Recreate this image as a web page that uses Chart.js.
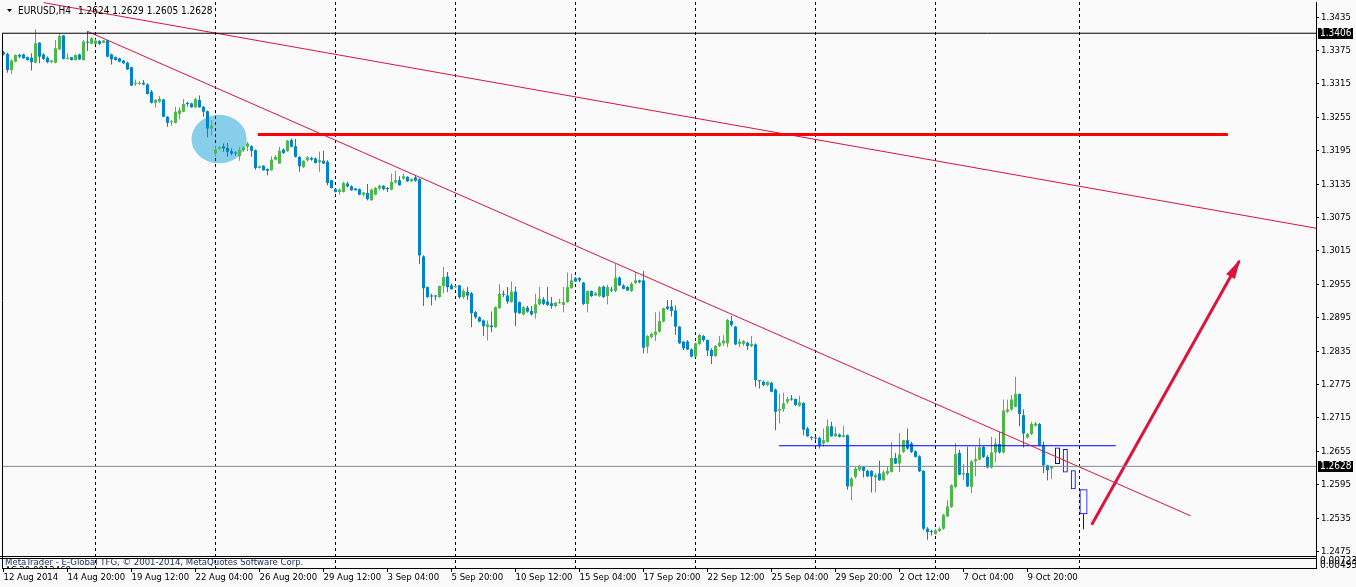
<!DOCTYPE html>
<html>
<head>
<meta charset="utf-8">
<script src="https://cdn.jsdelivr.net/npm/chart.js@4.4.1/dist/chart.umd.min.js"></script>
<style>
html,body{margin:0;padding:0;background:#FAFAFA;}
canvas{display:block;}
</style>
</head>
<body>
<canvas id="c" width="1356" height="587"></canvas>
<script>
// ---- EURUSD H4 candles (bar index 0 = 12 Aug 2014 04:00) ----
const openP = [
1.3372,1.3369,1.3340,1.3355,1.3367,1.3368,1.3363,1.3362,1.3353,1.3389,
1.3368,1.3362,1.3354,1.3353,1.3377,1.3402,1.3360,1.3363,1.3358,1.3368,
1.3358,1.3390,1.3387,1.3387,1.3392,1.3389,1.3393,1.3368,1.3363,1.3361,
1.3357,1.3353,1.3345,1.3315,1.3315,1.3317,1.3314,1.3301,1.3281,1.3283,
1.3287,1.3256,1.3246,1.3245,1.3261,1.3265,1.3281,1.3280,1.3273,1.3286,
1.3274,1.3266,1.3235,1.3190,1.3199,1.3203,1.3200,1.3194,1.3191,1.3185,
1.3196,1.3202,1.3203,1.3196,1.3164,1.3168,1.3162,1.3160,1.3179,1.3172,
1.3197,1.3194,1.3214,1.3203,1.3184,1.3166,1.3178,1.3182,1.3181,1.3174,
1.3177,1.3175,1.3142,1.3126,1.3121,1.3121,1.3136,1.3131,1.3127,1.3126,
1.3116,1.3119,1.3106,1.3116,1.3127,1.3132,1.3128,1.3125,1.3138,1.3142,
1.3145,1.3148,1.3140,1.3147,1.3144,1.3005,1.2950,1.2935,1.2935,1.2932,
1.2952,1.2969,1.2953,1.2950,1.2953,1.2932,1.2941,1.2939,1.2905,1.2896,
1.2890,1.2878,1.2881,1.2878,1.2912,1.2937,1.2935,1.2923,1.2942,1.2923,
1.2901,1.2913,1.2907,1.2903,1.2919,1.2928,1.2924,1.2921,1.2916,1.2921,
1.2918,1.2923,1.2948,1.2966,1.2966,1.2958,1.2920,1.2943,1.2935,1.2934,
1.2951,1.2934,1.2945,1.2943,1.2967,1.2953,1.2950,1.2943,1.2957,1.2962,
1.2962,1.2843,1.2860,1.2864,1.2870,1.2888,1.2915,1.2915,1.2908,1.2879,
1.2852,1.2852,1.2838,1.2825,1.2848,1.2862,1.2855,1.2837,1.2826,1.2844,
1.2849,1.2849,1.2889,1.2879,1.2848,1.2848,1.2850,1.2844,1.2847,1.2782,
1.2780,1.2774,1.2778,1.2766,1.2728,1.2731,1.2744,1.2749,1.2749,1.2737,
1.2742,1.2696,1.2680,1.2679,1.2679,1.2669,1.2672,1.2700,1.2682,1.2685,
1.2681,1.2684,1.2592,1.2609,1.2622,1.2627,1.2620,1.2620,1.2608,1.2615,
1.2603,1.2615,1.2618,1.2643,1.2633,1.2654,1.2675,1.2669,1.2655,1.2646,
1.2620,1.2516,1.2511,1.2507,1.2512,1.2516,1.2538,1.2555,1.2591,1.2652,
1.2614,1.2616,1.2591,1.2637,1.2640,1.2663,1.2645,1.2626,1.2653,1.2668,
1.2653,1.2726,1.2730,1.2735,1.2758,1.2720,1.2680,1.2686,1.2701,1.2704,
1.2666,1.2630,1.2624
];
const highP = [
1.3374,1.3371,1.3359,1.3368,1.3369,1.3369,1.3364,1.3370,1.3413,1.3390,
1.3370,1.3364,1.3358,1.3394,1.3406,1.3403,1.3370,1.3363,1.3368,1.3369,
1.3394,1.3410,1.3399,1.3395,1.3394,1.3394,1.3394,1.3369,1.3364,1.3362,
1.3358,1.3355,1.3346,1.3323,1.3320,1.3322,1.3316,1.3304,1.3288,1.3293,
1.3288,1.3257,1.3250,1.3274,1.3273,1.3288,1.3283,1.3281,1.3290,1.3294,
1.3275,1.3267,1.3250,1.3203,1.3203,1.3208,1.3209,1.3199,1.3194,1.3202,
1.3203,1.3211,1.3205,1.3197,1.3168,1.3169,1.3163,1.3185,1.3187,1.3202,
1.3199,1.3214,1.3217,1.3216,1.3185,1.3178,1.3185,1.3184,1.3183,1.3193,
1.3195,1.3178,1.3143,1.3127,1.3127,1.3139,1.3139,1.3133,1.3128,1.3127,
1.3121,1.3135,1.3127,1.3130,1.3134,1.3133,1.3130,1.3154,1.3159,1.3149,
1.3154,1.3149,1.3145,1.3151,1.3145,1.3007,1.2951,1.2938,1.2936,1.2953,
1.2986,1.2977,1.2956,1.2953,1.2954,1.2947,1.2950,1.2941,1.2907,1.2897,
1.2892,1.2890,1.2906,1.2915,1.2955,1.2944,1.2950,1.2960,1.2951,1.2924,
1.2916,1.2916,1.2916,1.2938,1.2950,1.2932,1.2950,1.2932,1.2923,1.2929,
1.2950,1.2976,1.2974,1.2968,1.2968,1.2959,1.2944,1.2944,1.2941,1.2952,
1.2953,1.2954,1.2950,1.2992,1.2969,1.2955,1.2952,1.2959,1.2977,1.2963,
1.2979,1.2864,1.2868,1.2905,1.2906,1.2913,1.2927,1.2927,1.2917,1.2880,
1.2853,1.2855,1.2840,1.2850,1.2866,1.2864,1.2856,1.2840,1.2846,1.2862,
1.2864,1.2893,1.2898,1.2880,1.2857,1.2855,1.2852,1.2862,1.2849,1.2783,
1.2782,1.2780,1.2780,1.2768,1.2759,1.2760,1.2753,1.2756,1.2750,1.2755,
1.2743,1.2699,1.2682,1.2681,1.2681,1.2696,1.2712,1.2708,1.2699,1.2687,
1.2701,1.2685,1.2609,1.2627,1.2631,1.2628,1.2622,1.2621,1.2615,1.2638,
1.2621,1.2627,1.2671,1.2652,1.2688,1.2676,1.2696,1.2672,1.2657,1.2648,
1.2621,1.2519,1.2514,1.2516,1.2519,1.2543,1.2567,1.2596,1.2670,1.2658,
1.2632,1.2663,1.2640,1.2663,1.2679,1.2664,1.2648,1.2681,1.2678,1.2690,
1.2748,1.2748,1.2756,1.2789,1.2759,1.2730,1.2688,1.2708,1.2708,1.2706,
1.2672,1.2631,1.2629
];
const lowP = [
1.3366,1.3335,1.3333,1.3354,1.3361,1.3360,1.3357,1.3339,1.3352,1.3352,
1.3358,1.3352,1.3353,1.3352,1.3376,1.3359,1.3359,1.3357,1.3357,1.3358,
1.3357,1.3374,1.3386,1.3386,1.3385,1.3388,1.3363,1.3350,1.3357,1.3354,
1.3351,1.3340,1.3311,1.3311,1.3313,1.3313,1.3296,1.3280,1.3273,1.3281,
1.3255,1.3238,1.3240,1.3244,1.3251,1.3264,1.3274,1.3272,1.3272,1.3272,
1.3256,1.3219,1.3222,1.3184,1.3196,1.3193,1.3184,1.3187,1.3186,1.3177,
1.3193,1.3194,1.3184,1.3161,1.3163,1.3159,1.3151,1.3159,1.3178,1.3171,
1.3189,1.3193,1.3201,1.3183,1.3157,1.3164,1.3175,1.3177,1.3172,1.3157,
1.3171,1.3133,1.3127,1.3120,1.3116,1.3120,1.3129,1.3123,1.3123,1.3115,
1.3113,1.3106,1.3105,1.3115,1.3124,1.3124,1.3121,1.3124,1.3136,1.3132,
1.3143,1.3139,1.3139,1.3139,1.2991,1.2916,1.2931,1.2917,1.2926,1.2931,
1.2939,1.2941,1.2946,1.2948,1.2929,1.2929,1.2927,1.2878,1.2893,1.2887,
1.2862,1.2854,1.2869,1.2877,1.2911,1.2932,1.2920,1.2922,1.2880,1.2902,
1.2899,1.2904,1.2899,1.2893,1.2917,1.2918,1.2916,1.2911,1.2914,1.2920,
1.2905,1.2922,1.2947,1.2959,1.2959,1.2918,1.2905,1.2932,1.2934,1.2932,
1.2931,1.2919,1.2941,1.2941,1.2952,1.2946,1.2943,1.2941,1.2956,1.2957,
1.2831,1.2831,1.2858,1.2853,1.2868,1.2887,1.2909,1.2897,1.2864,1.2848,
1.2837,1.2837,1.2824,1.2824,1.2846,1.2852,1.2826,1.2812,1.2825,1.2842,
1.2844,1.2842,1.2879,1.2846,1.2842,1.2844,1.2837,1.2842,1.2771,1.2768,
1.2772,1.2772,1.2761,1.2693,1.2705,1.2726,1.2740,1.2746,1.2737,1.2735,
1.2684,1.2681,1.2675,1.2675,1.2660,1.2663,1.2671,1.2681,1.2681,1.2680,
1.2680,1.2586,1.2567,1.2606,1.2619,1.2608,1.2609,1.2581,1.2581,1.2602,
1.2602,1.2612,1.2617,1.2632,1.2618,1.2652,1.2658,1.2652,1.2644,1.2618,
1.2513,1.2496,1.2504,1.2505,1.2510,1.2514,1.2537,1.2553,1.2588,1.2612,
1.2603,1.2591,1.2580,1.2610,1.2639,1.2643,1.2624,1.2624,1.2636,1.2651,
1.2651,1.2724,1.2728,1.2734,1.2700,1.2662,1.2678,1.2684,1.2699,1.2664,
1.2616,1.2603,1.2605
];
const closeP = [
1.3368,1.3340,1.3357,1.3367,1.3364,1.3361,1.3358,1.3354,1.3388,1.3364,
1.3360,1.3354,1.3357,1.3379,1.3401,1.3360,1.3361,1.3358,1.3367,1.3359,
1.3391,1.3389,1.3397,1.3393,1.3387,1.3393,1.3364,1.3359,1.3358,1.3355,
1.3352,1.3341,1.3312,1.3317,1.3317,1.3314,1.3297,1.3281,1.3286,1.3288,
1.3256,1.3245,1.3248,1.3265,1.3268,1.3279,1.3279,1.3273,1.3288,1.3273,
1.3265,1.3235,1.3240,1.3197,1.3202,1.3199,1.3193,1.3190,1.3190,1.3196,
1.3201,1.3208,1.3195,1.3164,1.3167,1.3160,1.3159,1.3179,1.3184,1.3195,
1.3191,1.3213,1.3202,1.3184,1.3167,1.3177,1.3183,1.3179,1.3173,1.3178,
1.3172,1.3137,1.3128,1.3121,1.3125,1.3137,1.3131,1.3124,1.3124,1.3116,
1.3120,1.3108,1.3125,1.3128,1.3132,1.3126,1.3126,1.3139,1.3142,1.3133,
1.3149,1.3140,1.3144,1.3141,1.3007,1.2948,1.2932,1.2933,1.2933,1.2952,
1.2968,1.2950,1.2946,1.2951,1.2932,1.2943,1.2935,1.2903,1.2896,1.2888,
1.2880,1.2883,1.2878,1.2914,1.2938,1.2936,1.2924,1.2942,1.2904,1.2903,
1.2914,1.2906,1.2901,1.2919,1.2929,1.2920,1.2918,1.2916,1.2922,1.2922,
1.2923,1.2950,1.2962,1.2960,1.2962,1.2920,1.2943,1.2934,1.2939,1.2950,
1.2932,1.2950,1.2944,1.2967,1.2953,1.2947,1.2944,1.2956,1.2962,1.2959,
1.2841,1.2862,1.2866,1.2870,1.2889,1.2912,1.2911,1.2907,1.2879,1.2849,
1.2840,1.2838,1.2825,1.2849,1.2864,1.2855,1.2836,1.2826,1.2844,1.2850,
1.2854,1.2891,1.2882,1.2847,1.2852,1.2853,1.2844,1.2848,1.2783,1.2781,
1.2774,1.2780,1.2762,1.2726,1.2731,1.2741,1.2749,1.2748,1.2738,1.2743,
1.2694,1.2682,1.2679,1.2678,1.2666,1.2675,1.2700,1.2682,1.2687,1.2681,
1.2684,1.2592,1.2606,1.2624,1.2628,1.2620,1.2610,1.2610,1.2612,1.2603,
1.2617,1.2620,1.2643,1.2633,1.2649,1.2675,1.2660,1.2654,1.2645,1.2619,
1.2516,1.2510,1.2510,1.2513,1.2516,1.2541,1.2556,1.2594,1.2650,1.2613,
1.2615,1.2592,1.2637,1.2641,1.2662,1.2645,1.2626,1.2653,1.2669,1.2653,
1.2728,1.2730,1.2748,1.2758,1.2722,1.2687,1.2686,1.2704,1.2705,1.2666,
1.2630,1.2621,1.2628
];

// ---- axes ----
const xTickBars = [0,16,32,48,64,80,96,112,128,144,160,176,192,208,224,240,256];
const xTickLabels = ['12 Aug 2014','14 Aug 20:00','19 Aug 12:00','22 Aug 04:00','26 Aug 20:00','29 Aug 12:00','3 Sep 04:00','5 Sep 20:00','10 Sep 12:00','15 Sep 04:00','17 Sep 20:00','22 Sep 12:00','25 Sep 04:00','29 Sep 20:00','2 Oct 12:00','7 Oct 04:00','9 Oct 20:00'];
const yTickVals = [1.3435,1.3375,1.3315,1.3255,1.3195,1.3135,1.3075,1.3015,1.2955,1.2895,1.2835,1.2775,1.2715,1.2655,1.2595,1.2535,1.2475];
const weekSeparators = [23,53,83,113,143,173,203,233,269];

// ---- header ----
const symbolText = 'EURUSD,H4';
const lastOHLC = [1.2624, 1.2629, 1.2605, 1.2628];
const bidPrice = 1.2628;
const highLinePrice = 1.3406;

// ---- drawn objects ----
const upperTrendX = [10, 328.25];
const upperTrendY = [1.3461, 1.30556];
const lowerTrendX = [21.1, 296.8];
const lowerTrendY = [1.3409, 1.2539];
const redLevelX = [63.6, 306.1];
const redLevelY = [1.3224, 1.3224];
const blueLevelX = [193.9, 278.1];
const blueLevelY = [1.2665, 1.2665];
const arrowX = [272.05, 308.95];
const arrowY = [1.2523, 1.2997];
const ellipseCenter = [53.9, 1.3216];
const ellipseHalf = [6.9, 0.00435];
const projX = [263.5, 265.45, 267.45];
const projTop = [1.2662, 1.2659, 1.2621];
const projBottom = [1.2632, 1.2617, 1.2587];
const projBigX = [270];
const projBigTop = [1.2587];
const projBigBottom = [1.2542];
const projBigLow = [1.2515];

const GREEN = '#4DB848', BLUE = '#0084C8', BG = '#FAFAFA';
const FONT = '"DejaVu Sans Condensed", "Liberation Sans", Arial, sans-serif';
const bars = openP.map((_, i) => i);
const candleColor = bars.map(i => closeP[i] >= openP[i] ? GREEN : BLUE);

function lineDs(xs, ys, color, width, order) {
  return { type: 'line', data: xs.map((x, k) => ({x, y: ys[k]})), borderColor: color, borderWidth: width,
           pointRadius: 0, fill: false, tension: 0, order };
}

const mtPlugin = {
  id: 'mt',
  beforeDraw(c) {
    const ctx = c.ctx; ctx.save(); ctx.fillStyle = BG; ctx.fillRect(0, 0, c.width, c.height); ctx.restore();
  },
  beforeDatasetsDraw(c) {
    const {ctx, chartArea: a, scales: {x, y}} = c;
    ctx.save();
    ctx.beginPath(); ctx.rect(a.left, a.top, a.right - a.left, a.bottom - a.top); ctx.clip();
    const cx = x.getPixelForValue(ellipseCenter[0]), cy = y.getPixelForValue(ellipseCenter[1]);
    const rx = Math.abs(x.getPixelForValue(ellipseCenter[0] + ellipseHalf[0]) - cx);
    const ry = Math.abs(y.getPixelForValue(ellipseCenter[1] + ellipseHalf[1]) - cy);
    ctx.fillStyle = '#87CEEB';
    ctx.beginPath(); ctx.ellipse(cx, cy, rx, ry, 0, 0, Math.PI * 2); ctx.fill();
    ctx.strokeStyle = '#000'; ctx.lineWidth = 1; ctx.setLineDash([3, 3]);
    weekSeparators.forEach(b => {
      const px = Math.floor(x.getPixelForValue(b)) + 0.5;
      ctx.beginPath(); ctx.moveTo(px, a.top); ctx.lineTo(px, a.bottom); ctx.stroke();
    });
    ctx.restore();
  },
  afterDatasetsDraw(c) {
    const {ctx, chartArea: a, scales: {x, y}} = c;
    ctx.save();
    const x1 = x.getPixelForValue(arrowX[0]), y1 = y.getPixelForValue(arrowY[0]);
    const x2 = x.getPixelForValue(arrowX[1]), y2 = y.getPixelForValue(arrowY[1]);
    const ang = Math.atan2(y2 - y1, x2 - x1);
    const L = 18, W = 5;
    const bx = x2 - L * Math.cos(ang), by = y2 - L * Math.sin(ang);
    ctx.fillStyle = '#DC143C';
    ctx.beginPath();
    ctx.moveTo(x2 + 2 * Math.cos(ang), y2 + 2 * Math.sin(ang));
    ctx.lineTo(bx + W * Math.sin(ang), by - W * Math.cos(ang));
    ctx.lineTo(bx - W * Math.sin(ang), by + W * Math.cos(ang));
    ctx.closePath(); ctx.fill();
    ctx.strokeStyle = '#000'; ctx.lineWidth = 1;
    ctx.beginPath();
    const hy = Math.floor(y.getPixelForValue(highLinePrice)) + 0.5;
    ctx.moveTo(a.left + 0.5, hy); ctx.lineTo(a.left + 0.5, a.bottom);
    ctx.moveTo(0, 556.5); ctx.lineTo(a.right, 556.5);
    ctx.moveTo(0, 558.5); ctx.lineTo(a.right, 558.5);
    ctx.stroke();
    ctx.restore();
  },
  afterDraw(c) {
    const {ctx, chartArea: a, scales: {y}} = c;
    ctx.save();
    ctx.fillStyle = '#000';
    ctx.beginPath(); ctx.moveTo(7, 9); ctx.lineTo(12, 9); ctx.lineTo(9.5, 12); ctx.closePath(); ctx.fill();
    ctx.font = '10px ' + FONT; ctx.textBaseline = 'middle'; ctx.textAlign = 'left';
    ctx.fillText(symbolText, 18, 11);
    ctx.fillText(lastOHLC.map(v => v.toFixed(4)).join(' '), 78, 11);
    [highLinePrice, bidPrice].forEach(p => {
      const py = y.getPixelForValue(p);
      ctx.fillStyle = '#000';
      ctx.fillRect(a.right + 2, Math.round(py) - 5, 35, 11);
      ctx.fillStyle = '#FFF';
      ctx.fillText(p.toFixed(4), a.right + 4, Math.round(py) + 0.5);
    });
    ctx.save();
    ctx.beginPath(); ctx.rect(a.left, 559, a.right - a.left, 9); ctx.clip();
    ctx.fillStyle = '#1C2A5A';
    ctx.font = '9.5px ' + FONT;
    ctx.fillText('MetaTrader - E-Global TFG, \u00A9 2001-2014, MetaQuotes Software Corp.', 5, 562.5);
    ctx.fillStyle = '#000';
    ctx.fillText('AC 20.0012468', 5, 571);
    ctx.restore();
    ctx.fillStyle = '#000'; ctx.font = '10px ' + FONT;
    ctx.fillText('0.00723', a.right + 4, 561);
    ctx.fillText('0.00495', a.right + 4, 565);
    ctx.restore();
  }
};

new Chart(document.getElementById('c'), {
  type: 'bar',
  data: {
    datasets: [
      lineDs([-0.375, 328.125], [highLinePrice, highLinePrice], '#000000', 1, 0),
      lineDs([-0.375, 328.125], [bidPrice, bidPrice], '#7A8A99', 1, 0),
      lineDs(upperTrendX, upperTrendY, '#DC143C', 1, 0),
      lineDs(lowerTrendX, lowerTrendY, '#DC143C', 1, 0),
      lineDs(redLevelX, redLevelY, '#FF0000', 3, 0),
      lineDs(blueLevelX, blueLevelY, '#0000FF', 1, 0),
      lineDs(arrowX, arrowY, '#DC143C', 3, 0),
      { type: 'bar', data: projX.map((x, k) => ({x, y: [projBottom[k], projTop[k]]})), backgroundColor: 'rgba(0,0,0,0)',
        borderColor: '#0000FF', borderWidth: 1, borderSkipped: false, barThickness: 5, grouped: false, inflateAmount: 0, order: 1 },
      { type: 'bar', data: projBigX.map((x, k) => ({x, y: [projBigBottom[k], projBigTop[k]]})), backgroundColor: 'rgba(0,0,0,0)',
        borderColor: '#0000FF', borderWidth: 1, borderSkipped: false, barThickness: 8, grouped: false, inflateAmount: 0, order: 1 },
      { type: 'bar', data: projBigX.map((x, k) => ({x, y: [projBigLow[k], projBigBottom[k]]})), backgroundColor: '#0000FF',
        borderWidth: 0, barThickness: 1, grouped: false, inflateAmount: 0, order: 1 },
      { type: 'bar', data: bars.map(i => ({x: i, y: [openP[i], closeP[i]]})), backgroundColor: candleColor,
        borderWidth: 0, barThickness: 3, minBarLength: 1, grouped: false, inflateAmount: 0, order: 5 },
      { type: 'bar', data: bars.map(i => ({x: i, y: [lowP[i], highP[i]]})), backgroundColor: candleColor,
        borderWidth: 0, barThickness: 1, grouped: false, inflateAmount: 0, order: 6 }
    ]
  },
  options: {
    responsive: false, animation: false, devicePixelRatio: 1, events: [],
    layout: { padding: { left: 2, top: 2, right: 0, bottom: 0 } },
    plugins: { legend: { display: false }, tooltip: { enabled: false }, title: { display: false } },
    scales: {
      x: {
        type: 'linear', min: -0.375, max: 328.125, offset: false, position: 'bottom',
        afterBuildTicks: s => { s.ticks = xTickBars.map(v => ({ value: v })); },
        afterFit: s => { s.height = 19; s.paddingLeft = 0; s.paddingRight = 0; },
        grid: { drawOnChartArea: false, drawTicks: true, tickLength: 4, color: '#000', offset: false },
        border: { display: true, color: '#000' },
        ticks: { autoSkip: false, maxRotation: 0, minRotation: 0, align: 'start', padding: 0, color: '#000',
                 font: { family: FONT, size: 9.5 }, callback: (v, i) => xTickLabels[i] }
      },
      y: {
        type: 'linear', position: 'right', min: 1.24454, max: 1.346211,
        afterBuildTicks: s => { s.ticks = yTickVals.map(v => ({ value: v })); },
        afterFit: s => { s.width = 40; s.paddingTop = 0; s.paddingBottom = 0; },
        grid: { drawOnChartArea: false, drawTicks: true, tickLength: 3, color: '#000' },
        border: { display: true, color: '#000' },
        ticks: { padding: 2, color: '#000', font: { family: FONT, size: 9.5 }, callback: v => Number(v).toFixed(4) }
      }
    }
  },
  plugins: [mtPlugin]
});
</script>
</body>
</html>
